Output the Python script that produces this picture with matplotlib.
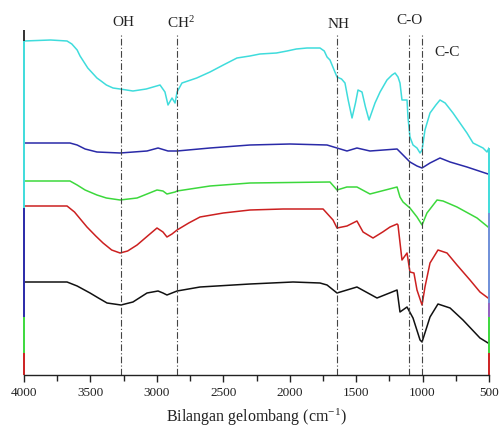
import matplotlib
matplotlib.use("Agg")
import matplotlib.pyplot as plt
from matplotlib.ticker import MultipleLocator

plt.rcParams['font.family'] = ['Liberation Serif', 'DejaVu Serif']
plt.rcParams['mathtext.default'] = 'regular'

# ---- data (wavenumber cm-1, transmittance in arbitrary offset units) ----
cyan_w = [4000, 3800, 3676, 3640, 3600, 3578, 3520, 3451, 3420, 3380, 3330, 3277, 3180, 3080,
          2976, 2939, 2916, 2886, 2863, 2848, 2811, 2700, 2600, 2500, 2397, 2300, 2224, 2100,
          2020, 1950, 1870, 1772, 1740, 1719, 1697, 1644, 1610, 1584, 1560, 1531, 1505, 1486,
          1456, 1430, 1403, 1358, 1320, 1268, 1230, 1207, 1185, 1170, 1155, 1117, 1110, 1095,
          1072, 1042, 1019, 1004, 982, 944, 900, 869, 830, 771, 666, 620, 545, 515, 500]
cyan_v = [334, 335, 334, 331, 325, 319, 307, 297, 294, 290, 287, 286, 284, 286,
          290, 283, 270, 277, 272, 283, 292, 297, 303, 310, 317, 319, 321, 322,
          324, 326, 327, 327, 324, 318, 315, 298, 296, 292, 275, 257, 272, 285,
          283, 268, 255, 272, 283, 295, 300, 302, 298, 292, 275, 275, 258, 238,
          230, 227, 222, 225, 245, 262, 270, 275, 272, 262, 242, 232, 227, 223, 227]

blue_w = [4000, 3800, 3654, 3600, 3540, 3451, 3277, 3074, 2991, 2916, 2848, 2600, 2299, 1998,
          1719, 1644, 1569, 1494, 1396, 1192, 1147, 1095, 1042, 1004, 944, 869, 793, 666, 507]
blue_v = [232, 232, 232, 230, 226, 223, 222, 224, 227, 224, 224, 227, 230, 231,
          230, 227, 224, 227, 224, 226, 220, 213, 209, 207, 212, 217, 213, 208, 201]

green_w = [4000, 3800, 3654, 3600, 3540, 3451, 3380, 3277, 3149, 2999, 2954, 2924, 2863, 2848,
           2600, 2299, 1697, 1644, 1570, 1494, 1396, 1192, 1170, 1147, 1095, 1042, 1004, 967,
           891, 846, 741, 590, 507]
green_v = [194, 194, 194, 190, 185, 180, 177, 175, 177, 185, 184, 181, 183, 184,
           189, 192, 193, 185, 188, 188, 181, 188, 178, 173, 167, 158, 150, 162,
           175, 174, 168, 157, 148]

red_w = [4000, 3800, 3676, 3620, 3570, 3526, 3460, 3405, 3340, 3277, 3220, 3149, 3070, 2999,
         2954, 2924, 2886, 2848, 2760, 2675, 2500, 2299, 2050, 1749, 1674, 1644, 1569, 1494,
         1448, 1373, 1300, 1245, 1192, 1185, 1155, 1117, 1095, 1065, 1042, 1004, 982, 944,
         884, 816, 741, 643, 568, 507]
red_v = [169, 169, 169, 163, 155, 148, 139, 132, 125, 122, 124, 130, 139, 147,
         143, 138, 141, 145, 152, 158, 162, 165, 166, 166, 155, 147, 149, 154,
         143, 137, 143, 148, 151, 150, 115, 122, 103, 102, 85, 70, 88, 112,
         125, 122, 110, 95, 83, 77]

black_w = [4000, 3800, 3676, 3600, 3503, 3440, 3375, 3270, 3180, 3074, 2991, 2954, 2924, 2848,
           2675, 2299, 1975, 1772, 1719, 1644, 1494, 1343, 1192, 1170, 1117, 1072, 1019, 1004,
           944, 884, 793, 696, 568, 507]
black_v = [93, 93, 93, 89, 82, 77, 72, 70, 73, 82, 84, 82, 80, 84,
           88, 91, 93, 92, 90, 82, 88, 77, 85, 63, 68, 57, 35, 33,
           58, 71, 67, 55, 37, 32]

band_pos = [3270, 2848, 1644, 1102, 1004]
band_labels = ["OH", "CH$^2$", "NH", "C-O", "C-C"]
label_pos = [3255, 2818, 1636, 1095, 816]
label_y = [352, 352, 350, 355, 323]

xticks = [4000, 3500, 3000, 2500, 2000, 1500, 1000, 500]

# ---- figure ----
fig = plt.figure(figsize=(4.99, 4.30), dpi=100)
ax = fig.add_axes([24/499, 55/430, 465/499, 345/430])
ax.set_xlim(4000, 500)
ax.set_ylim(0, 345)

series = [(cyan_w, cyan_v, '#3fdcdc'), (blue_w, blue_v, '#2a2aa8'),
          (green_w, green_v, '#3cd83c'), (red_w, red_v, '#cc2020'),
          (black_w, black_v, '#111111')]
for w, v, c in series:
    ax.plot(w, v, color=c, lw=1.1)

for p in band_pos:
    ax.plot([p, p], [0, 341], color='#444444', lw=0.8, ls=(0, (6, 2, 1, 2)))

for p, t, y in zip(label_pos, band_labels, label_y):
    ax.text(p, y, t, ha='center', va='center', fontsize=11, color='#222222', clip_on=False)

# coloured axis segments of overlaid layers
left_segs = [(334, 345, '#333333'), (167, 334, '#3fdcdc'), (58, 167, '#2a2aa8'),
             (22, 58, '#3cd83c'), (0, 22, '#cc2020')]
right_segs = [(162, 227, '#3fdcdc'), (72, 162, '#6f8fd8'), (58, 72, '#9060c0'),
              (22, 58, '#3cd83c'), (0, 22, '#cc2020')]
for y0, y1, c in left_segs:
    ax.plot([4000, 4000], [y0, y1], color=c, lw=1.4, clip_on=False, solid_capstyle='butt')
for y0, y1, c in right_segs:
    ax.plot([500, 500], [y0, y1], color=c, lw=1.4, clip_on=False, solid_capstyle='butt')

for s in ['left', 'right', 'top']:
    ax.spines[s].set_visible(False)
ax.spines['bottom'].set_color('#222222')
ax.spines['bottom'].set_linewidth(1.0)

ax.set_xticks(xticks)
ax.xaxis.set_minor_locator(MultipleLocator(250))
ax.tick_params(axis='x', which='major', direction='out', length=5, width=1, colors='#222222',
               labelsize=9.5)
ax.tick_params(axis='x', which='minor', direction='out', length=4, width=1, colors='#222222')
ax.set_yticks([])
ax.set_xlabel("Bilangan gelombang (cm$^{-1}$)", fontsize=11.5, color='#222222', labelpad=6)

fig.savefig("out.png", dpi=100)
